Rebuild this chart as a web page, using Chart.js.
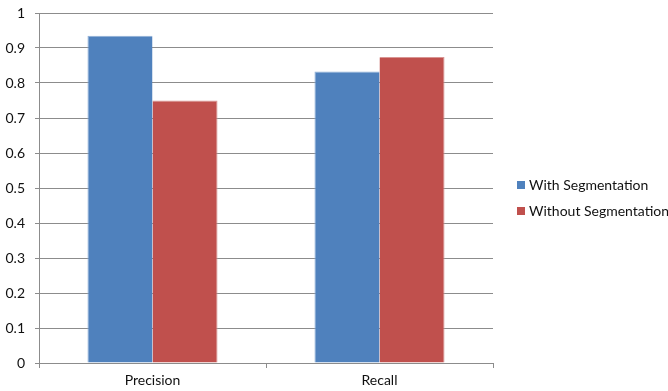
<!DOCTYPE html>
<html>
<head>
<meta charset="utf-8">
<script src="https://cdn.jsdelivr.net/npm/chart.js@4"></script>
<style>
  html, body { margin: 0; padding: 0; background: #fff; }
  #wrap { width: 668px; height: 391px; position: relative; }
</style>
</head>
<body>
<div id="wrap"><canvas id="c" width="668" height="391"></canvas></div>
<script>
// Evaluation metrics compared with and without segmentation
const categories = ['Precision', 'Recall'];
const withSegmentation = [0.935, 0.833];
const withoutSegmentation = [0.75, 0.874];
const seriesNames = ['With Segmentation', 'Without Segmentation'];
const yTicks = [0, 0.1, 0.2, 0.3, 0.4, 0.5, 0.6, 0.7, 0.8, 0.9, 1];

const FONT = 'Lato, "Open Sans", sans-serif';
const BLUE = '#4F81BD';
const RED = '#C0504D';
const GRID = '#8c8c8c';
const TEXT = '#111111';

// Legend drawn at the right, squares plus labels
const sideLegend = {
  id: 'sideLegend',
  afterDraw(chart) {
    const ctx = chart.ctx;
    ctx.save();
    ctx.font = '14px ' + FONT;
    ctx.textBaseline = 'middle';
    chart.data.datasets.forEach((ds, i) => {
      const y = 185 + i * 26;
      ctx.fillStyle = ds.backgroundColor;
      ctx.fillRect(517, y - 4, 8, 8);
      ctx.fillStyle = TEXT;
      ctx.fillText(ds.label, 529, y);
    });
    ctx.restore();
  }
};

new Chart(document.getElementById('c'), {
  type: 'bar',
  data: {
    labels: categories,
    datasets: [
      { label: seriesNames[0], data: withSegmentation, backgroundColor: BLUE,
        borderColor: '#8fb0d8', borderWidth: { top: 1, left: 1, right: 0, bottom: 0 } },
      { label: seriesNames[1], data: withoutSegmentation, backgroundColor: RED,
        borderColor: '#d99593', borderWidth: { top: 1, left: 0, right: 1, bottom: 0 } }
    ]
  },
  options: {
    responsive: false,
    animation: false,
    events: [],
    layout: { padding: { top: 13, right: 175, left: 0, bottom: 0 } },
    datasets: { bar: { categoryPercentage: 0.573, barPercentage: 1.0 } },
    plugins: { legend: { display: false }, tooltip: { enabled: false } },
    scales: {
      x: {
        offset: true,
        grid: { offset: true, drawOnChartArea: false, drawTicks: true, tickLength: 5, color: GRID },
        border: { color: GRID, width: 1 },
        ticks: { color: TEXT, font: { family: FONT, size: 14 }, padding: 4 },
        afterFit(s) { s.height = 28; }
      },
      y: {
        min: 0, max: 1,
        afterBuildTicks(s) { s.ticks = yTicks.map(v => ({ value: v })); },
        grid: { color: GRID, tickLength: 4, lineWidth: 1 },
        border: { color: GRID, width: 1 },
        ticks: {
          color: TEXT, font: { family: FONT, size: 14 }, padding: 10,
          callback: v => String(Math.round(v * 10) / 10)
        },
        afterFit(s) { s.width = 39; s.paddingTop = 0; s.paddingBottom = 0; }
      }
    }
  },
  plugins: [sideLegend]
});
</script>
</body>
</html>
